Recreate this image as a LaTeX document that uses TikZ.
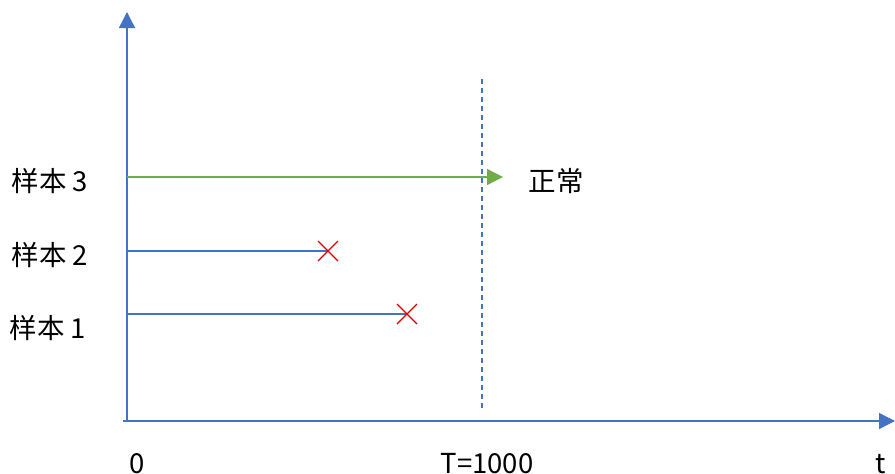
\documentclass[tikz,border=0pt]{standalone}
\usepackage{fontspec}
\setmainfont{Noto Sans CJK SC}
\usetikzlibrary{arrows.meta,calc}
\definecolor{axisblue}{HTML}{4472C4}
\definecolor{okgreen}{HTML}{70AD47}
\definecolor{failred}{HTML}{E00000}
\begin{document}
\begin{tikzpicture}[x=1pt,y=-1pt,
  lbl/.style={font=\fontsize{27.5}{30}\selectfont, inner sep=0pt, anchor=center},
  axisline/.style={draw=axisblue, line width=1.4pt, -{Triangle[width=16pt,length=16pt]}},
  sampleline/.style={draw=axisblue, line width=1.4pt},
  okline/.style={draw=okgreen, line width=1.4pt, -{Triangle[width=16pt,length=16pt]}},
  failmark/.style={draw=failred, line width=1.2pt},
  limitline/.style={draw=axisblue, line width=1.2pt, dash pattern=on 5pt off 4pt}]
\useasboundingbox (0,0) rectangle (895,474);
% axes
\coordinate (O) at (127,421);
\coordinate (Hstart) at (123,421);
\coordinate (Ytop) at (127,12);
\coordinate (Xend) at (895,421);
\draw[axisline] (O) -- (Ytop);
\draw[axisline] (Hstart) -- (Xend);
% dashed limit line
\coordinate (Dtop) at (482,79);
\coordinate (Dbot) at (482,411);
\draw[limitline] (Dtop) -- (Dbot);
% sample 3
\coordinate (S3a) at (127,177);
\coordinate (S3b) at (503,177);
\draw[okline] (S3a) -- (S3b);
% sample 2
\coordinate (S2a) at (127,251);
\coordinate (S2b) at (328,251);
\draw[sampleline] (S2a) -- (S2b);
\draw[failmark] ($(S2b)+(-10,-10)$) -- ($(S2b)+(10,10)$);
\draw[failmark] ($(S2b)+(-10,10)$) -- ($(S2b)+(10,-10)$);
% sample 1
\coordinate (S1a) at (127,314);
\coordinate (S1b) at (407,314);
\draw[sampleline] (S1a) -- (S1b);
\draw[failmark] ($(S1b)+(-10,-10)$) -- ($(S1b)+(10,10)$);
\draw[failmark] ($(S1b)+(-10,10)$) -- ($(S1b)+(10,-10)$);
% labels
\node[lbl] (l3) at (50,181) {样本 3};
\node[lbl] (l2) at (50,255) {样本 2};
\node[lbl] (l1) at (48,328) {样本 1};
\node[lbl] (ok) at (556,181) {正常};
\node[lbl] (zero) at (137,464) {0};
\node[lbl] (T) at (487,464) {T=1000};
\node[lbl] (t) at (881,464) {t};
\end{tikzpicture}
\end{document}
